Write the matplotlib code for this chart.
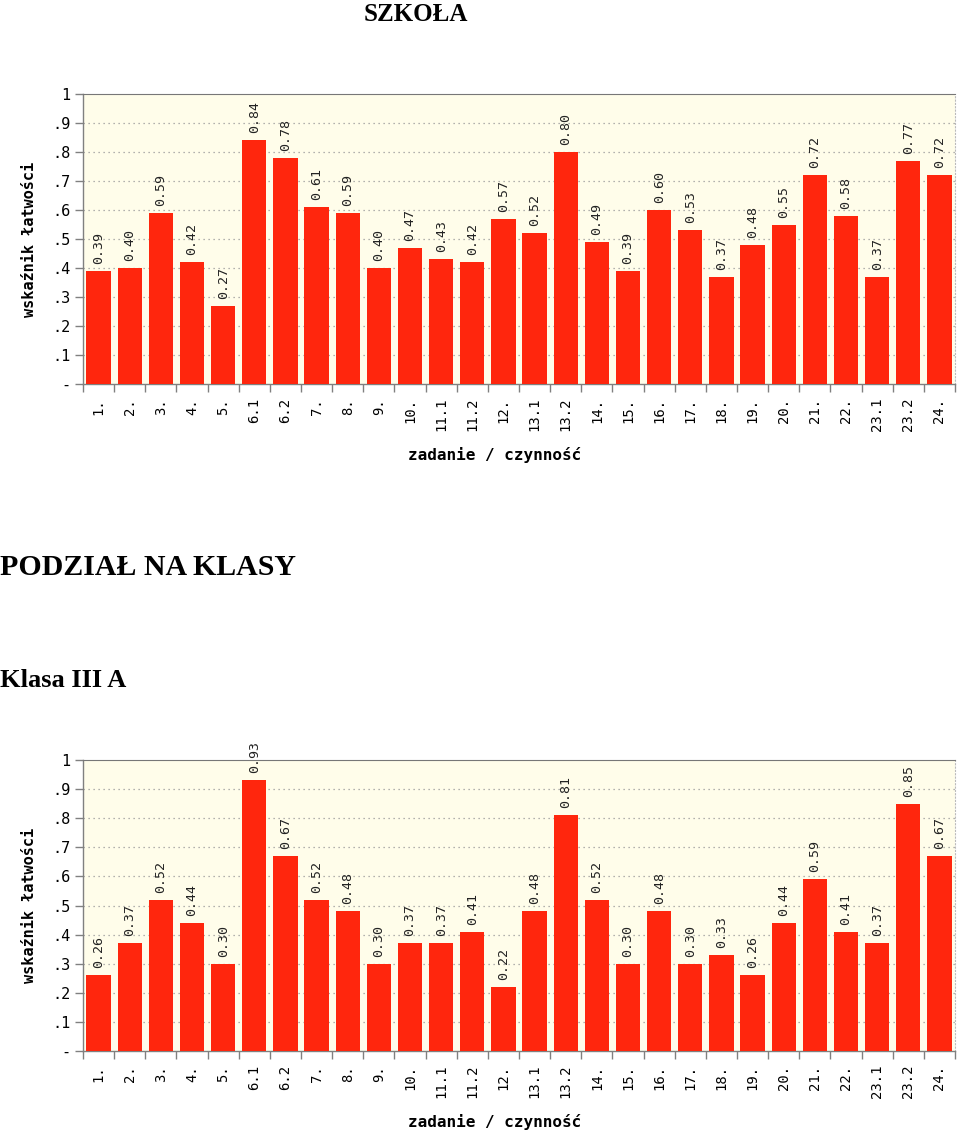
import numpy as np
import matplotlib
matplotlib.use('Agg')
import matplotlib.pyplot as plt
from matplotlib.ticker import FixedLocator

labels = ['1.', '2.', '3.', '4.', '5.', '6.1', '6.2', '7.', '8.', '9.', '10.',
          '11.1', '11.2', '12.', '13.1', '13.2', '14.', '15.', '16.', '17.',
          '18.', '19.', '20.', '21.', '22.', '23.1', '23.2', '24.']
szkola = [0.39, 0.40, 0.59, 0.42, 0.27, 0.84, 0.78, 0.61, 0.59, 0.40, 0.47,
          0.43, 0.42, 0.57, 0.52, 0.80, 0.49, 0.39, 0.60, 0.53, 0.37, 0.48,
          0.55, 0.72, 0.58, 0.37, 0.77, 0.72]
klasa_3a = [0.26, 0.37, 0.52, 0.44, 0.30, 0.93, 0.67, 0.52, 0.48, 0.30, 0.37,
            0.37, 0.41, 0.22, 0.48, 0.81, 0.52, 0.30, 0.48, 0.30, 0.33, 0.26,
            0.44, 0.59, 0.41, 0.37, 0.85, 0.67]
yticks = [0, .1, .2, .3, .4, .5, .6, .7, .8, .9, 1]
ytick_labels = ['-', '.1', '.2', '.3', '.4', '.5', '.6', '.7', '.8', '.9', '1']

W, H = 960, 1130
fig = plt.figure(figsize=(W/100, H/100), dpi=100)
mono = 'DejaVu Sans Mono'
serif = 'Liberation Serif'
bar_col = '#ff260d'
bg_col = '#fffdea'
grey = '#808080'

def chart(top, bottom, vals):
    left, right = 83, 955
    ax = fig.add_axes([left/W, 1-bottom/H, (right-left)/W, (bottom-top)/H])
    ax.set_facecolor(bg_col)
    x = np.arange(len(vals))
    ax.bar(x, vals, width=0.78, color=bar_col, zorder=3)
    for xi, v in zip(x, vals):
        ax.annotate('%.2f' % v, (xi, v), xytext=(0, 5), textcoords='offset points',
                    rotation=90, ha='center', va='bottom', fontsize=9.5,
                    family=mono, color='#222222', annotation_clip=False)
    ax.set_xlim(-0.5, len(vals)-0.5)
    ax.set_ylim(0, 1)
    ax.set_yticks(yticks)
    ax.set_yticklabels(ytick_labels, family=mono, fontsize=11)
    for y in yticks[1:-1]:
        ax.axhline(y, color='#999999', lw=0.9, ls=(0, (1, 3)), zorder=1)
    ax.set_xticks(x)
    ax.set_xticklabels(labels, rotation=90, family=mono, fontsize=10, va='top')
    ax.xaxis.set_minor_locator(FixedLocator(np.arange(-0.5, len(vals), 1.0)))
    ax.tick_params(axis='x', which='major', length=0, pad=10)
    ax.tick_params(axis='x', which='minor', length=6, width=1, color=grey)
    ax.tick_params(axis='y', length=6, width=1, color=grey, pad=3)
    for s in ['left', 'bottom']:
        ax.spines[s].set_color(grey)
        ax.spines[s].set_linewidth(1)
    ax.spines['top'].set_color('#777777')
    ax.spines['top'].set_linestyle((0, (1, 1)))
    ax.spines['right'].set_color('#bbbbbb')
    ax.spines['right'].set_linestyle((0, (1, 2)))
    fig.text(30/W, 1-(top+bottom)/2/H, 'wskaźnik łatwości', rotation=90,
             ha='center', va='center', family=mono, weight='bold', fontsize=11)
    fig.text(495/W, 1-(bottom+71)/H, 'zadanie / czynność', ha='center',
             va='center', family=mono, weight='bold', fontsize=11.5)
    return ax

fig.text(416/W, 1-21/H, 'SZKOŁA', ha='center', va='baseline', family=serif,
         weight='bold', fontsize=18)
chart(94, 384, szkola)
fig.text(0, 1-575/H, 'PODZIAŁ NA KLASY', ha='left', va='baseline', family=serif,
         weight='bold', fontsize=21.5)
fig.text(0, 1-687/H, 'Klasa III A', ha='left', va='baseline', family=serif,
         weight='bold', fontsize=19)
chart(760, 1051, klasa_3a)

fig.savefig('out.png', dpi=100, facecolor='white')
